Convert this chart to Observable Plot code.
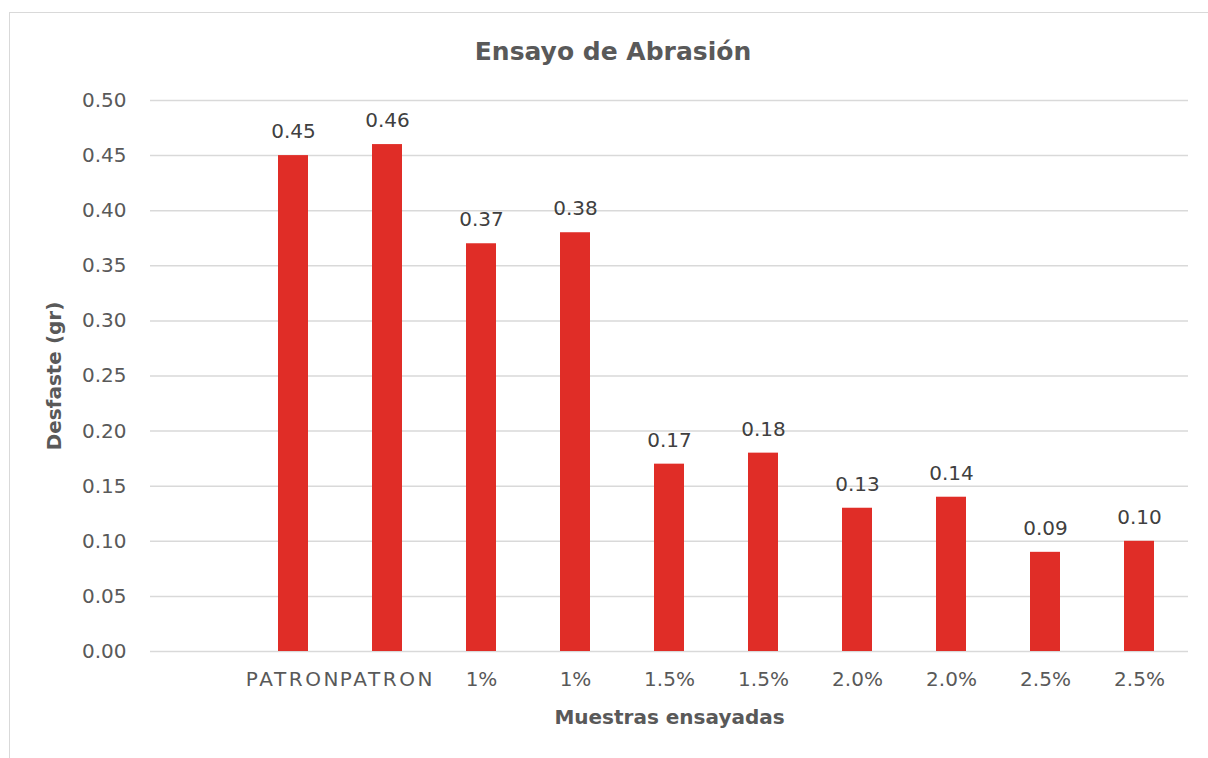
<!DOCTYPE html>
<html>
<head>
<meta charset="utf-8">
<script src="https://cdn.jsdelivr.net/npm/d3@7"></script>
<script src="https://cdn.jsdelivr.net/npm/@observablehq/plot@0.6"></script>
<style>
  html, body { margin: 0; padding: 0; background: #fff; }
  #wrap { position: relative; width: 1208px; height: 758px; overflow: hidden; font-family: "DejaVu Sans", sans-serif; }
  #frame { position: absolute; left: 9px; top: 12px; width: 1260px; height: 800px; border: 1.5px solid #d9d9d9; box-sizing: border-box; }
  #title { position: absolute; top: 37px; left: 0; width: 1226px; text-align: center; font-size: 25px; font-weight: bold; color: #595959; }
  #chart { position: absolute; left: 0; top: 0; }
</style>
</head>
<body>
<div id="wrap">
  <div id="frame"></div>
  <div id="title">Ensayo de Abrasión</div>
  <div id="chart"></div>
</div>
<script>
const labels = ["", "PATRON", "PATRON", "1%", "1%", "1.5%", "1.5%", "2.0%", "2.0%", "2.5%", "2.5%"];
const values = [null, 0.45, 0.46, 0.37, 0.38, 0.17, 0.18, 0.13, 0.14, 0.09, 0.10];
const yTicks = [0, 0.05, 0.10, 0.15, 0.20, 0.25, 0.30, 0.35, 0.40, 0.45, 0.50];

const data = labels.map((l, i) => ({i, label: l, value: values[i]})).filter(d => d.value != null);

const plot = Plot.plot({
  width: 1208,
  height: 758,
  marginLeft: 150,
  marginRight: 20,
  marginTop: 100,
  marginBottom: 107,
  style: {fontFamily: '"DejaVu Sans", sans-serif', fontSize: "20px", color: "#595959", background: "transparent"},
  x: {domain: d3.range(labels.length), paddingInner: 0.68, paddingOuter: 0.34, align: 0.5},
  y: {domain: [0, 0.5]},
  marks: [
    Plot.gridY(yTicks, {stroke: "#d9d9d9", strokeOpacity: 1, strokeWidth: 1.5}),
    Plot.barY(data, {x: "i", y: "value", fill: "#e02d27"}),
    Plot.text(data, {x: "i", y: "value", text: d => d3.format(".2f")(d.value), dy: -24, fontSize: 20, fill: "#404040"}),
    Plot.axisY({ticks: yTicks, tickFormat: d3.format(".2f"), tickSize: 0, tickPadding: 24, fontSize: 20, label: "Desfaste (gr)", labelAnchor: "center", labelArrow: "none", labelOffset: 104}),
    Plot.axisX({tickFormat: i => labels[i], tickSize: 0, tickPadding: 20, fontSize: 20, label: "Muestras ensayadas", labelAnchor: "center", labelArrow: "none", labelOffset: 72})
  ]
});
plot.querySelectorAll("[aria-label='y-axis label'] text, [aria-label='x-axis label'] text").forEach(t => { t.setAttribute("font-weight", "bold"); t.setAttribute("font-size", "20px"); });
plot.querySelectorAll("[aria-label='x-axis tick label'] text").forEach(t => { if (t.textContent === "PATRON") t.setAttribute("letter-spacing", "2.6px"); });
document.getElementById("chart").appendChild(plot);
</script>
</body>
</html>
